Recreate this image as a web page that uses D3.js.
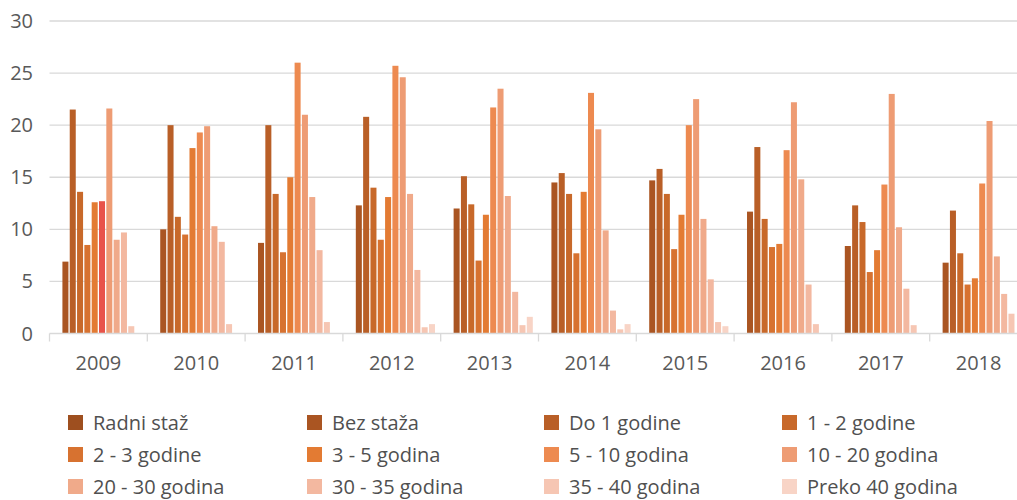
<!DOCTYPE html>
<html>
<head>
<meta charset="utf-8">
<script src="https://cdn.jsdelivr.net/npm/d3@7/dist/d3.min.js"></script>
<style>
  html, body { margin: 0; padding: 0; background: #fff; }
  svg { display: block; font-family: "Open Sans", sans-serif; }
</style>
</head>
<body>
<svg id="chart" width="1017" height="500"></svg>
<script>
const years = ["2009","2010","2011","2012","2013","2014","2015","2016","2017","2018"];
const seriesNames = ["Radni staž","Bez staža","Do 1 godine","1 - 2 godine","2 - 3 godine","3 - 5 godina",
  "5 - 10 godina","10 - 20 godina","20 - 30 godina","30 - 35 godina","35 - 40 godina","Preko 40 godina"];
const seriesColors = ["#9E4F1F","#AA5522","#B95F27","#C8692A","#D77230","#E37B33",
  "#ED8A50","#EE9C74","#F0AA8A","#F3B8A0","#F6C6B3","#F8D4C6"];
const yTicks = [0,5,10,15,20,25,30];

const radniStaz = [null,null,null,null,null,null,null,null,null,null];
const bezStaza  = [6.9,10.0,8.7,12.3,12.0,14.5,14.7,11.7,8.4,6.8];
const do1       = [21.5,20.0,20.0,20.8,15.1,15.4,15.8,17.9,12.3,11.8];
const g1_2      = [13.6,11.2,13.4,14.0,12.4,13.4,13.4,11.0,10.7,7.7];
const g2_3      = [8.5,9.5,7.8,9.0,7.0,7.7,8.1,8.3,5.9,4.7];
const g3_5      = [12.6,17.8,15.0,13.1,11.4,13.6,11.4,8.6,8.0,5.3];
const g5_10     = [12.7,19.3,26.0,25.7,21.7,23.1,20.0,17.6,14.3,14.4];
const g10_20    = [21.6,19.9,21.0,24.6,23.5,19.6,22.5,22.2,23.0,20.4];
const g20_30    = [9.0,10.3,13.1,13.4,13.2,9.9,11.0,14.8,10.2,7.4];
const g30_35    = [9.7,8.8,8.0,6.1,4.0,2.2,5.2,4.7,4.3,3.8];
const g35_40    = [0.7,0.9,1.1,0.6,0.8,0.4,1.1,0.9,0.8,1.9];
const preko40   = [null,null,null,0.9,1.6,0.9,0.7,null,null,null];

// highlighted data point (drawn in red in the original)
const highlight = { series: "5 - 10 godina", year: "2009", color: "#E8534A" };

const seriesValues = [radniStaz,bezStaza,do1,g1_2,g2_3,g3_5,g5_10,g10_20,g20_30,g30_35,g35_40,preko40];

const rows = [];
years.forEach((yr, i) => {
  seriesNames.forEach((s, j) => {
    const v = seriesValues[j][i];
    if (v != null) rows.push({ year: yr, series: s, value: v, color: seriesColors[j] });
  });
});

const svg = d3.select("#chart");
const plotLeft = 49.5, plotRight = 1027.5, yBase = 333.5, yTop = 21;

const x0 = d3.scaleBand().domain(years).range([plotLeft, plotRight]).padding(0);
const x1 = d3.scaleBand().domain(seriesNames).range([5, x0.bandwidth() - 5]).padding(0);
const y = d3.scaleLinear().domain([0, 30]).range([yBase, yTop]);

// gridlines
svg.append("g").selectAll("line").data(yTicks.filter(t => t > 0)).join("line")
  .attr("x1", plotLeft).attr("x2", 1017)
  .attr("y1", d => y(d)).attr("y2", d => y(d))
  .attr("stroke", "#D9D9D9").attr("stroke-width", 1.3);

// y tick labels
svg.append("g").selectAll("text").data(yTicks).join("text")
  .attr("x", 33).attr("y", d => y(d)).attr("dy", "0.35em")
  .attr("text-anchor", "end").attr("font-size", 20).attr("fill", "#595959")
  .text(d => d);

// bars
svg.append("g").selectAll("rect").data(rows).join("rect")
  .attr("x", d => x0(d.year) + x1(d.series) + 0.6)
  .attr("width", x1.bandwidth() - 1.3)
  .attr("y", d => y(d.value))
  .attr("height", d => y(0) - y(d.value))
  .attr("fill", d => (d.series === highlight.series && d.year === highlight.year) ? highlight.color : d.color);

// x axis baseline and ticks
const xAxis = d3.axisBottom(x0).tickSize(0).tickPadding(22);
const gx = svg.append("g").attr("transform", `translate(0,${yBase})`).call(xAxis);
gx.select(".domain").attr("stroke", "#D9D9D9").attr("stroke-width", 1.3)
  .attr("d", `M${plotLeft},0H1017`);
gx.selectAll(".tick text").attr("font-size", 20).attr("fill", "#595959")
  .attr("font-family", "Open Sans, sans-serif");
// category boundary ticks
const bounds = years.map(yr => x0(yr)).concat([plotRight]);
svg.append("g").selectAll("line").data(bounds).join("line")
  .attr("x1", d => d).attr("x2", d => d)
  .attr("y1", yBase).attr("y2", yBase + 8)
  .attr("stroke", "#D9D9D9").attr("stroke-width", 1.3);

// legend
const legendCols = [68, 307, 544, 782];
const legendRows = [415, 447, 479];
const lg = svg.append("g").selectAll("g").data(seriesNames).join("g")
  .attr("transform", (d, i) => `translate(${legendCols[i % 4]},${legendRows[Math.floor(i / 4)]})`);
lg.append("rect").attr("width", 15).attr("height", 15)
  .attr("fill", (d, i) => seriesColors[i]);
lg.append("text").attr("x", 25).attr("y", 14.5)
  .attr("font-size", 20).attr("fill", "#505050").text(d => d);
</script>
</body>
</html>
